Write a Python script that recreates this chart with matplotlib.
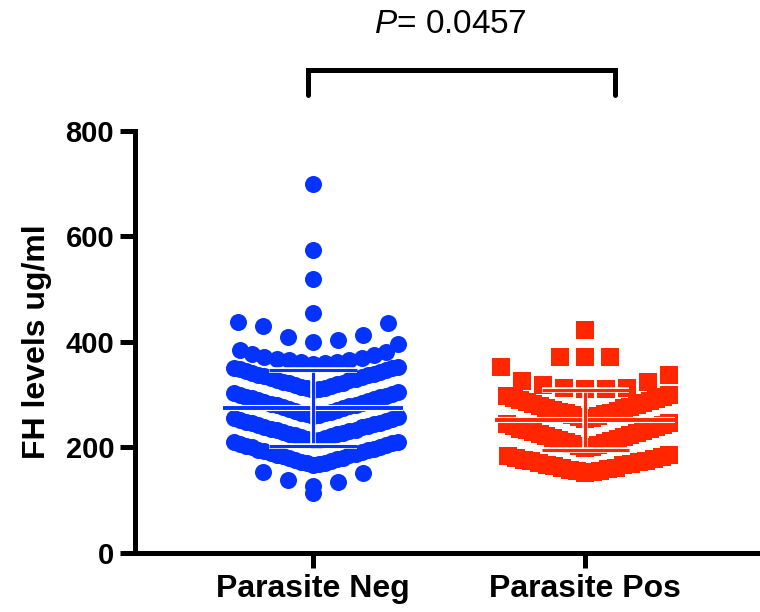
import numpy as np
import matplotlib
matplotlib.use("Agg")
import matplotlib.pyplot as plt
import matplotlib.patheffects as pe

plt.rcParams['font.family'] = ['Liberation Sans', 'DejaVu Sans']
plt.rcParams['mathtext.fontset'] = 'custom'
plt.rcParams['mathtext.it'] = 'Liberation Sans:italic'
plt.rcParams['mathtext.rm'] = 'Liberation Sans'

# data
groups = ["Parasite Neg", "Parasite Pos"]

neg_values = [700, 575, 520, 455,
              437, 436, 430, 413, 409, 404, 400,
              397, 385, 381, 378, 375, 372, 370, 368, 366, 365, 363, 362, 360, 358,
              309, 310, 312, 313, 315, 317, 318, 320, 322, 323, 325, 327, 328, 330,
              332, 333, 335, 337, 338, 340, 342, 343, 345, 347, 348, 350, 351, 352,
              260, 261, 263, 265, 266, 268, 270, 271, 273, 275, 276, 278, 280, 281,
              283, 285, 286, 288, 290, 291, 293, 295, 296, 298, 300, 301, 303, 305,
              214, 215, 217, 218, 220, 222, 223, 225, 226, 228, 230, 231, 233, 234,
              236, 238, 239, 241, 242, 244, 246, 247, 249, 250, 252, 254, 255, 257,
              167, 168, 170, 171, 173, 175, 176, 178, 180, 181, 183, 185, 186, 188,
              190, 191, 193, 195, 196, 198, 200, 201, 203, 205, 206, 208, 210, 211,
              153, 152, 138, 135, 127, 114]

pos_values = [423, 372, 372, 372,
              337, 352, 326, 324, 318, 313, 313, 311, 311,
              254, 256, 257, 259, 261, 263, 265, 266, 268, 270, 272, 274, 275, 277,
              279, 281, 283, 284, 286, 288, 290, 292, 293, 295, 297, 300,
              199, 201, 203, 205, 207, 209, 210, 212, 214, 216, 218, 220, 222, 223,
              225, 227, 229, 231, 233, 235, 236, 238, 240, 242, 244, 247,
              152, 153, 155, 156, 158, 159, 161, 162, 164, 166, 167, 169, 170, 172,
              174, 175, 177, 178, 180, 182, 183, 185]

group_mean = [275, 252]
group_sd = [72, 57]

p_text = "$P$= 0.0457"

BLUE = "#0433FF"
RED = "#FF2600"


def swarmOffsets(values, bin_h, origin, half_width=0.3125, max_step=0.092):
    # graphpad style: bin by value, lowest in the middle, alternate right/left
    values = np.asarray(values, float)
    offsets = np.zeros(len(values))
    bins = np.floor((values - origin) / bin_h).astype(int)
    for b in np.unique(bins):
        idx = np.where(bins == b)[0]
        idx = idx[np.argsort(values[idx], kind="stable")]
        k = len(idx) // 2
        step = max_step if k == 0 else min(max_step, half_width / k)
        for j, i in enumerate(idx):
            side = 1 if j % 2 == 1 else -1
            offsets[i] = side * ((j + 1) // 2) * step
    return offsets


fig = plt.figure(figsize=(7.6, 6.12), dpi=100)
ax = fig.add_axes([0.1776, 0.0964, 0.8224, 0.6896])

neg_x = 1 + swarmOffsets(neg_values, 47, 24)
pos_x = 2 + swarmOffsets(pos_values, 52, 146, half_width=0.31)

ax.scatter(neg_x, neg_values, s=150, marker="o", color=BLUE, linewidths=0, zorder=2)
ax.scatter(pos_x, pos_values, s=160, marker="s", color=RED, linewidths=0, zorder=2)

halo = [pe.Stroke(linewidth=4.0, foreground="white"), pe.Normal()]
for i, col in enumerate([BLUE, RED]):
    x0 = i + 1
    m, sd = group_mean[i], group_sd[i]
    ax.plot([x0 - 0.33, x0 + 0.33], [m, m], color=col, lw=2.8, zorder=3,
            path_effects=[pe.Stroke(linewidth=4.4, foreground="white"), pe.Normal()],
            solid_capstyle="butt")
    ax.plot([x0, x0], [m - sd, m + sd], color=col, lw=2.2, zorder=3,
            path_effects=halo, solid_capstyle="butt")
    for yy in (m - sd, m + sd):
        ax.plot([x0 - 0.16, x0 + 0.16], [yy, yy], color=col, lw=2.2, zorder=3,
                path_effects=halo, solid_capstyle="butt")

# significance bracket
ax.plot([0.982, 0.982, 2.11, 2.11], [868, 916, 916, 868], color="black", lw=3.6,
        clip_on=False, solid_capstyle="round", solid_joinstyle="miter")
ax.text(1.504, 1001, p_text, ha="center", va="center", fontsize=24, clip_on=False)

ax.set_xlim(0.3456, 2.643)
ax.set_ylim(0, 800)
ax.set_yticks([0, 200, 400, 600, 800])
ax.set_xticks([1, 2])
ax.set_xticklabels(groups, fontsize=23, fontweight="bold")
for lab in ax.get_yticklabels():
    lab.set_fontsize(21)
    lab.set_fontweight("bold")
ax.set_ylabel("FH levels ug/ml", fontsize=23, fontweight="bold", labelpad=10)

for side in ["top", "right"]:
    ax.spines[side].set_visible(False)
for side in ["left", "bottom"]:
    ax.spines[side].set_linewidth(3.6)
ax.spines["left"].set_bounds(0, 800)
ax.tick_params(axis="both", width=3.6, length=11, direction="out", pad=4)

fig.savefig("out.png", dpi=100)
